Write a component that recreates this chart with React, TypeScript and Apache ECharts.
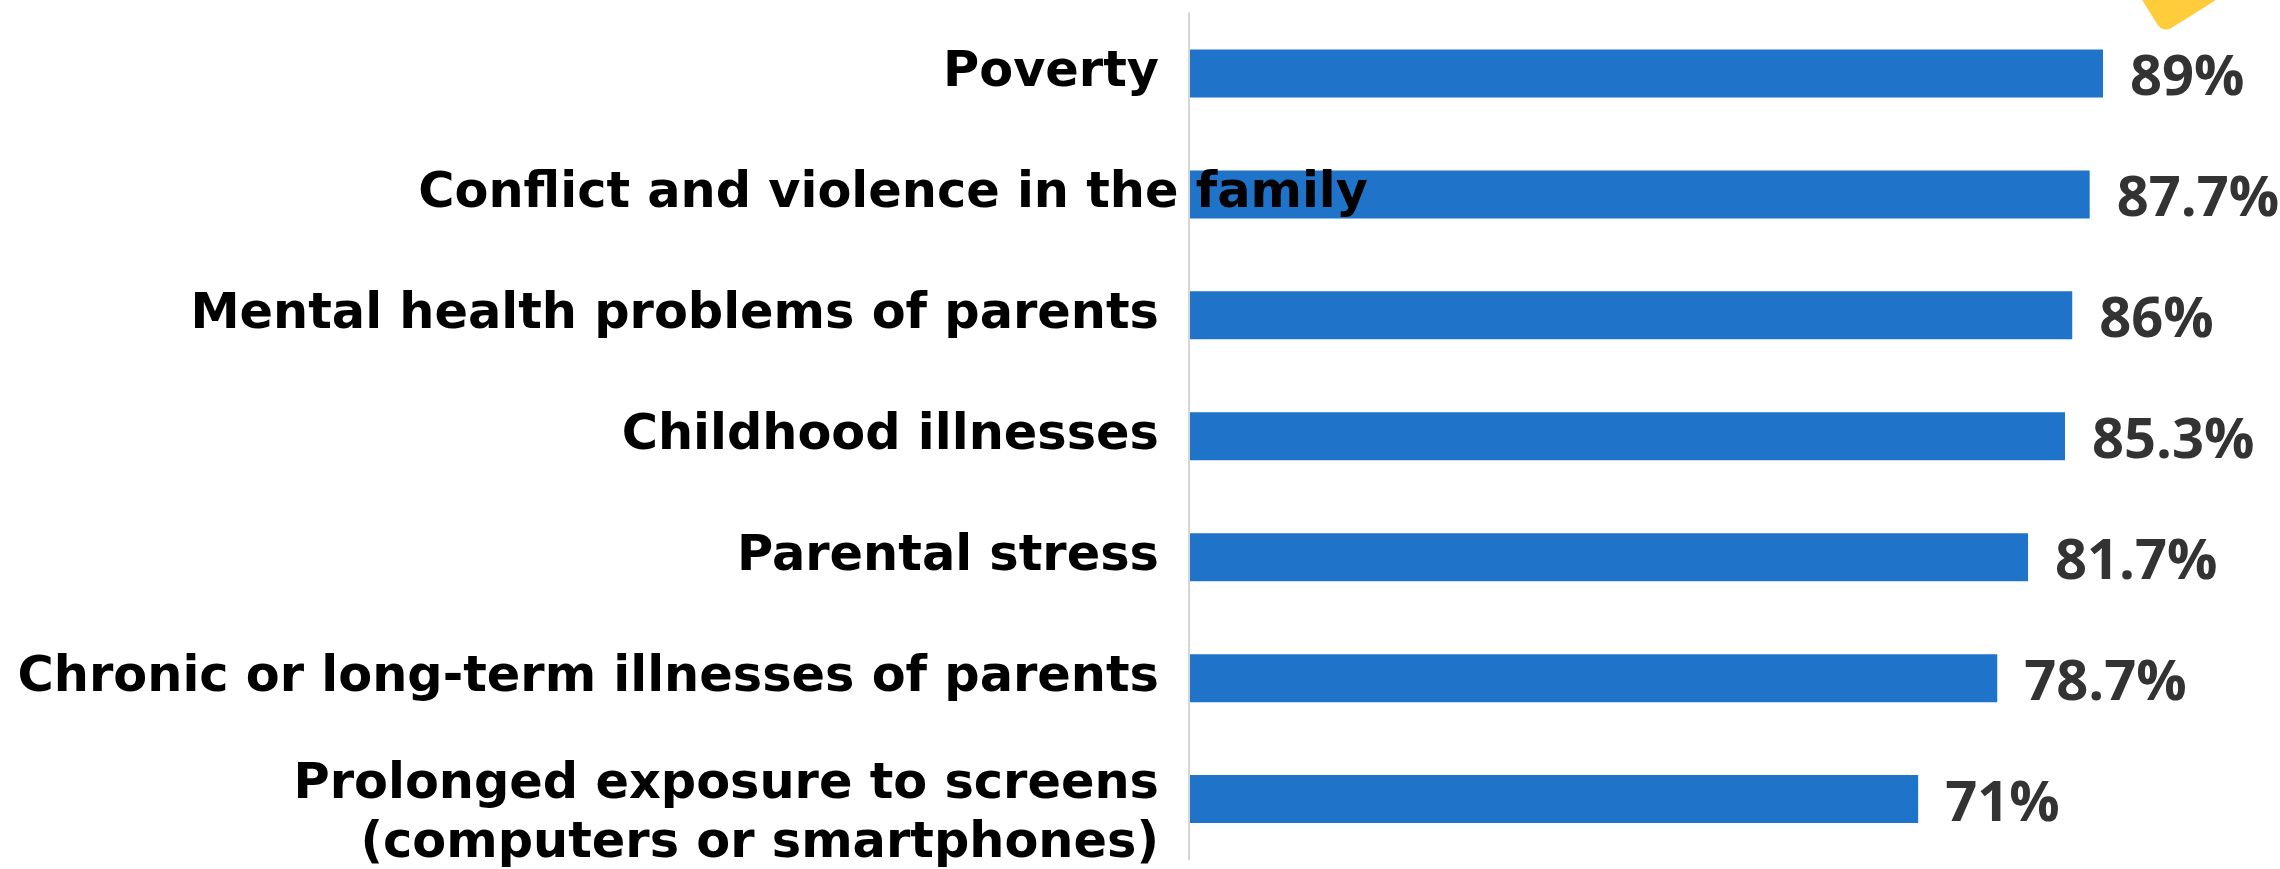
import React, { useEffect, useRef } from "react";
import * as echarts from "echarts";

const categories: string[] = [
  "Poverty",
  "Conflict and violence in the family",
  "Mental health problems of parents",
  "Childhood illnesses",
  "Parental stress",
  "Chronic or long-term illnesses of parents",
  "Prolonged exposure to screens\n(computers or smartphones)",
];
const values: number[] = [89, 87.7, 86, 85.3, 81.7, 78.7, 71];

const BAR_COLOR = "#1f73c9";
const CAT_FONT = "DejaVu Sans";
const VAL_FONT = "Open Sans";

export default function App() {
  const ref = useRef<HTMLDivElement>(null);
  useEffect(() => {
    if (!ref.current) return;
    const chart = echarts.init(ref.current, null, { renderer: "svg" });
    const yData = categories.map((c, i) =>
      i === categories.length - 1
        ? { value: c, textStyle: { padding: [22, 0, 0, 0] } }
        : { value: c }
    );
    chart.setOption({
      animation: false,
      backgroundColor: "#ffffff",
      grid: { left: 1189, right: 64, top: 13, bottom: 8, containLabel: false },
      xAxis: {
        type: "value",
        min: 0,
        max: 100,
        show: false,
        splitLine: { show: false },
      },
      yAxis: {
        type: "category",
        inverse: true,
        data: yData,
        z: 10,
        axisLine: { show: true, lineStyle: { color: "#d6d6d6", width: 2 } },
        axisTick: { show: false },
        splitLine: { show: false },
        axisLabel: {
          margin: 30,
          color: "#000000",
          fontFamily: CAT_FONT,
          fontWeight: 700,
          fontSize: 49.4,
          lineHeight: 59,
          padding: [0, 0, 8, 0],
          formatter: (v: string) =>
            v === categories[1] ? `{shift|${v}}` : v,
          rich: {
            shift: {
              color: "#000000",
              fontFamily: CAT_FONT,
              fontWeight: 700,
              fontSize: 49.4,
              padding: [0, -209, 0, 0],
            },
          },
        },
      },
      series: [
        {
          type: "bar",
          data: values,
          barWidth: 48,
          itemStyle: { color: BAR_COLOR },
          label: {
            show: true,
            position: "right",
            distance: 27,
            formatter: (p: any) => `${p.value}%`,
            color: "#333333",
            fontFamily: VAL_FONT,
            fontWeight: 700,
            fontSize: 56,
          },
        },
      ],
      graphic: [
        {
          type: "rect",
          x: 2174,
          y: -15,
          rotation: (32 * Math.PI) / 180,
          shape: { x: -35, y: -35, width: 70, height: 70, r: 10 },
          style: { fill: "#ffcd3c" },
          z: 20,
        },
      ],
    });
    return () => chart.dispose();
  }, []);
  return (
    <div
      ref={ref}
      style={{ position: "fixed", left: 0, top: 0, width: 2280, height: 869 }}
    />
  );
}
